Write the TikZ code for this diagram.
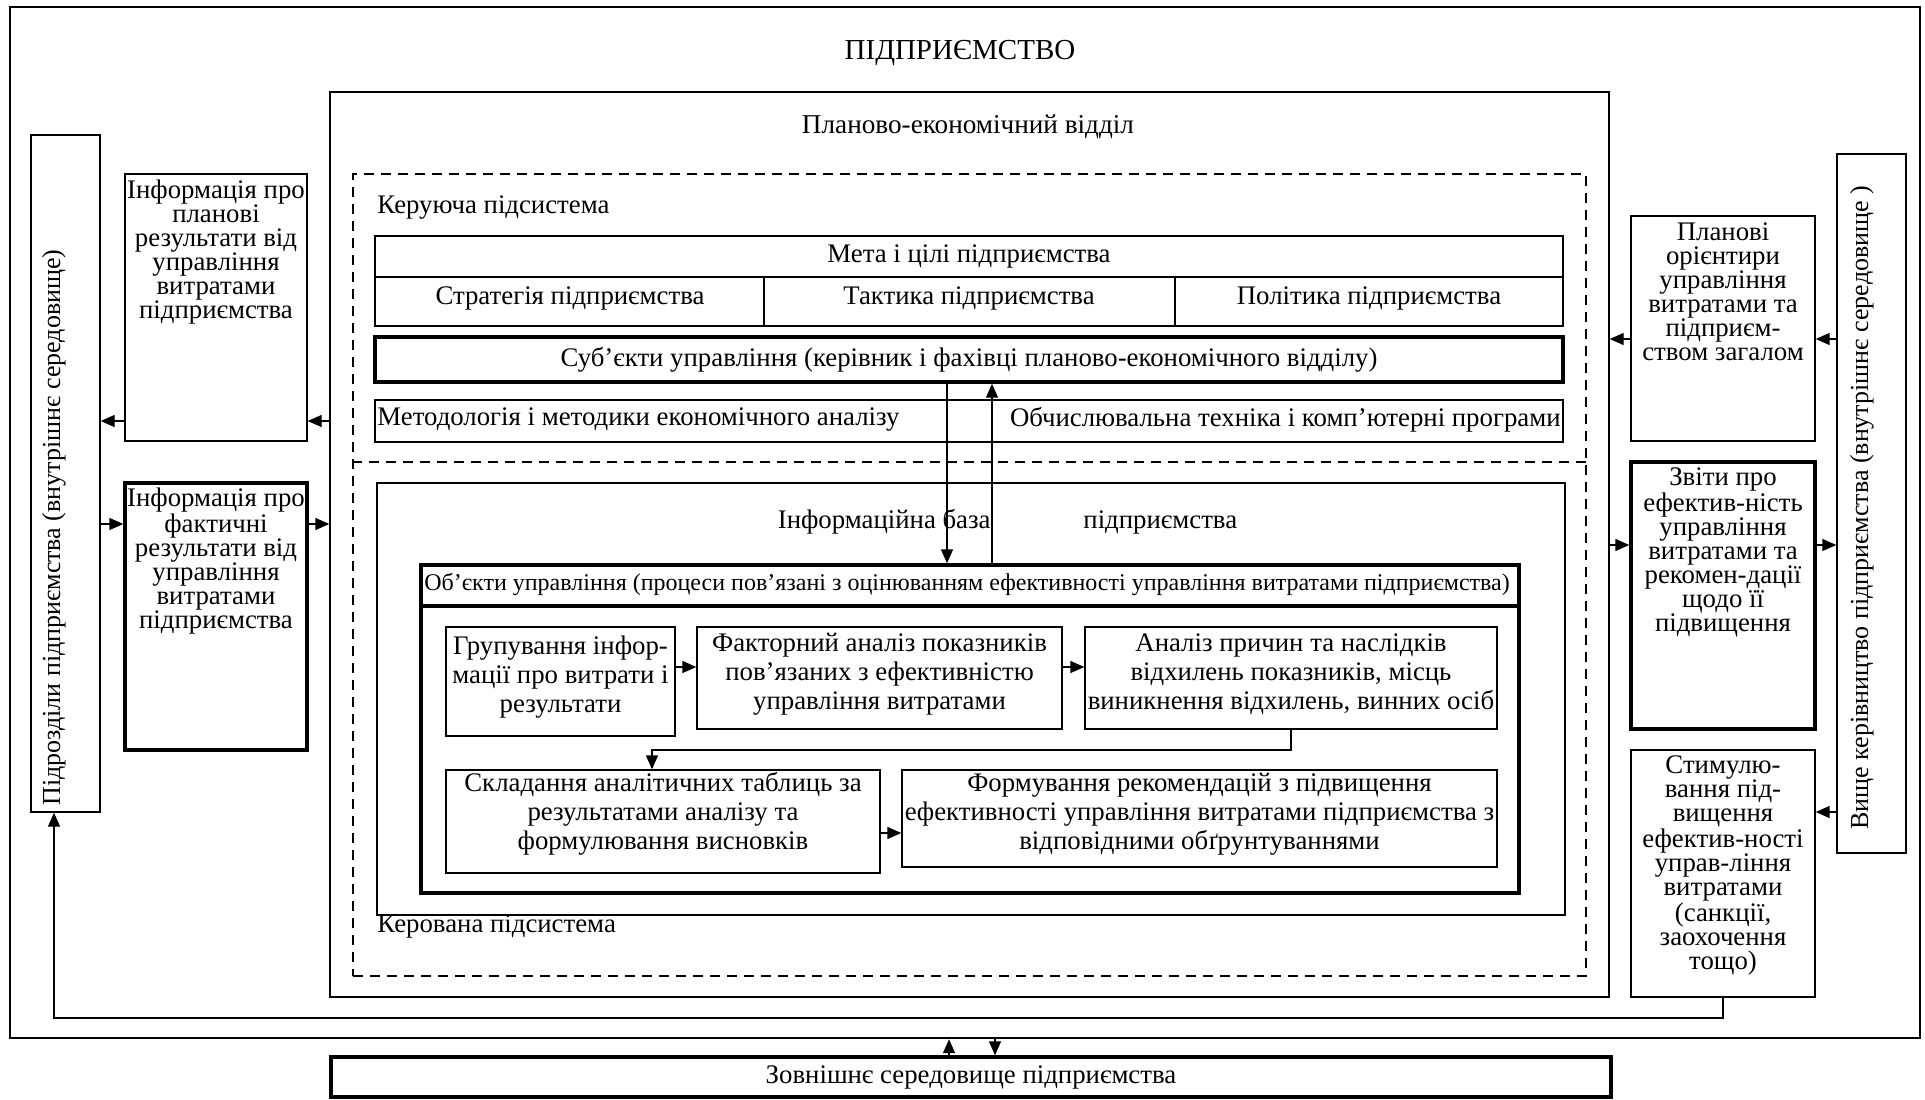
\documentclass[tikz,border=0pt]{standalone}
\usepackage{fontspec}
\setmainfont{Liberation Serif}
\usepackage{tikz}
\usetikzlibrary{positioning,arrows.meta,fit}

\begin{document}
\begin{tikzpicture}[x=0.5pt, y=-0.5pt,
        box/.style={draw, line width=0.7pt, inner sep=0pt},
        tbox/.style={draw, line width=1.7pt, inner sep=0pt},
        dbox/.style={draw, line width=0.6pt, dash pattern=on 5pt off 3.5pt, inner sep=0pt},
        txt/.style={font=\fontsize{13.4}{12}\selectfont, inner sep=0pt, align=center},
        vtxt/.style={font=\fontsize{13}{12}\selectfont, inner sep=0pt, rotate=90, anchor=west},
        ptxt/.style={font=\fontsize{13.4}{14.5}\selectfont, inner sep=0pt, align=center, yshift=2pt},
        arr/.style={-{Triangle[length=7pt,width=6pt]}, line width=0.7pt}
      ]
  \useasboundingbox (0,0) rectangle (1925,1099);

  % enterprise and planning department
  \node[box, line width=1.2pt, fit={(10,7) (1920,1038)}] (firm) {};
  \node[font=\fontsize{14.5}{16}\selectfont] (firmT) at (960,53) {ПІДПРИЄМСТВО};
  \node[box, fit={(330,92) (1609,997)}] (pe) {};
  \node[font=\fontsize{13.6}{14}\selectfont] (peT) at (968,127) {Планово-економічний відділ};

  % controlling subsystem
  \node[dbox, fit={(353,174) (1586,976)}] (sys) {};
  \draw[dbox] (sys.west |- 0,462) -- (sys.east |- 0,462);
  \node[txt, anchor=west] (ctrlT) at (377,208) {Керуюча підсистема};

  \node[box, fit={(375,236) (1563,326)}] (goal) {};
  \draw[line width=0.6pt] (goal.west |- 0,277) -- (goal.east |- 0,277)
        (764,277) -- (764,326) (1175,277) -- (1175,326);
  \node[txt] (goalT) at (969,256) {Мета і цілі підприємства};
  \node[txt] (strat) at (570,298) {Стратегія підприємства};
  \node[txt] (tact) at (969,298) {Тактика підприємства};
  \node[txt] (polit) at (1369,298) {Політика підприємства};

  \node[tbox, fit={(375,337) (1563,382)}] (subj) {};
  \node[txt] (subjT) at (subj.center)
        {Суб’єкти управління (керівник і фахівці планово-економічного відділу)};
  \node[box, fit={(375,400) (1563,442)}] (meth) {};
  \node[txt, anchor=west] (methL) at (377,420) {Методологія і методики економічного аналізу};
  \node[txt, anchor=east] (methR) at (1561,420) {Обчислювальна техніка і комп’ютерні програми};

  % controlled subsystem
  \node[box, line width=0.8pt, fit={(377,483) (1565,915)}] (base) {};
  \node[txt, anchor=east] (baseL) at (991,522) {Інформаційна база};
  \node[txt, anchor=west] (baseR) at (1083,522) {підприємства};
  \node[txt, anchor=west] (mngdT) at (377,926) {Керована підсистема};

  \node[tbox, fit={(421,565) (1519,893)}] (obj) {};
  \draw[line width=1.7pt] (obj.west |- 0,606) -- (obj.east |- 0,606);
  \node[font=\fontsize{12}{12}\selectfont, anchor=west, inner sep=0pt] (objT) at (424,584)
        {Об’єкти управління (процеси пов’язані з оцінюванням ефективності управління витратами підприємства)};

  \node[box, fit={(446,627) (675,736)}] (grp) {};
  \node[ptxt] at (grp.center) {Групування інфор-\\мації про витрати і\\результати};
  \node[box, fit={(697,627) (1062,729)}] (fact) {};
  \node[ptxt] at (fact.center) {Факторний аналіз показників\\пов’язаних з ефективністю\\управління витратами};
  \node[box, fit={(1085,627) (1497,729)}] (anls) {};
  \node[ptxt] at (anls.center) {Аналіз причин та наслідків\\відхилень показників, місць\\виникнення відхилень, винних осіб};
  \node[box, fit={(446,770) (880,873)}] (comp) {};
  \node[ptxt, yshift=2pt] at (comp.center) {Складання аналітичних таблиць за\\результатами аналізу та\\формулювання висновків};
  \node[box, fit={(902,770) (1497,867)}] (recom) {};
  \node[ptxt] at (recom.center) {Формування рекомендацій з підвищення\\ефективності управління витратами підприємства з\\відповідними обґрунтуваннями};

  \draw[arr] (grp.east |- 0,667) -- (fact.west |- 0,667);
  \draw[arr] (fact.east |- 0,667) -- (anls.west |- 0,667);
  \draw[arr] (anls.south -| 1291,0) -- (1291,750) -| (comp.north -| 652,0);
  \draw[arr] (comp.east |- 0,833) -- (recom.west |- 0,833);
  \draw[arr] (subj.south -| 947,0) -- (obj.north -| 947,0);
  \draw[arr] (obj.north -| 992,0) -- (subj.south -| 992,0);

  % left side
  \node[box, fit={(31,135) (100,812)}] (unit) {};
  \node[vtxt] (unitT) at (54,806) {Підрозділи підприємства (внутрішнє середовище)};
  \node[box, fit={(125,174) (307,441)}] (plan) {};
  \node[txt, anchor=north] (planT) at (216,179) {Інформація про\\планові\\результати від\\управління\\витратами\\підприємства};
  \node[tbox, fit={(125,483) (307,750)}] (act) {};
  \node[txt, anchor=north] (actT) at (216,487) {Інформація про\\фактичні\\результати від\\управління\\витратами\\підприємства};

  \draw[arr] (pe.west |- 0,421) -- (plan.east |- 0,421);
  \draw[arr] (plan.west |- 0,421) -- (unit.east |- 0,421);
  \draw[arr] (unit.east |- 0,524) -- (act.west |- 0,524);
  \draw[arr] (act.east |- 0,524) -- (pe.west |- 0,524);

  % right side
  \node[box, fit={(1837,154) (1906,853)}] (head) {};
  \node[vtxt] (headT) at (1862,830) {Вище керівництво підприємства (внутрішнє середовище )};
  \node[box, fit={(1631,216) (1815,441)}] (orient) {};
  \node[txt, anchor=north] (orientT) at (1723,222) {Планові\\орієнтири\\управління\\витратами та\\підприєм-\\ством загалом};
  \node[tbox, fit={(1631,462) (1815,729)}] (rep) {};
  \node[txt, anchor=north] (repT) at (1723,467) {Звіти про\\ефектив-ність\\управління\\витратами та\\рекомен-дації\\щодо її\\підвищення};
  \node[box, fit={(1631,750) (1815,997)}] (stim) {};
  \node[txt, anchor=north] (stimT) at (1723,755) {Стимулю-\\вання під-\\вищення\\ефектив-ності\\управ-ління\\витратами\\(санкції,\\заохочення\\тощо)};

  \draw[arr] (head.west |- 0,339) -- (orient.east |- 0,339);
  \draw[arr] (orient.west |- 0,339) -- (pe.east |- 0,339);
  \draw[arr] (pe.east |- 0,545) -- (rep.west |- 0,545);
  \draw[arr] (rep.east |- 0,545) -- (head.west |- 0,545);
  \draw[arr] (head.west |- 0,812) -- (stim.east |- 0,812);
  \draw[arr] (stim.south) -- (stim.south |- 0,1018) -| (unit.south -| 54,0);

  % external environment
  \node[tbox, fit={(331,1057) (1611,1097)}] (ext) {};
  \node[txt] (extT) at (ext.center) {Зовнішнє середовище підприємства};
  \draw[arr] (ext.north -| 949,0) -- (firm.south -| 949,0);
  \draw[arr] (firm.south -| 995,0) -- (ext.north -| 995,0);
\end{tikzpicture}
\end{document}
